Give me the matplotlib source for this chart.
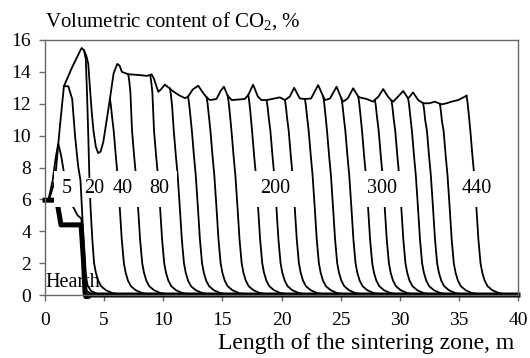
import matplotlib
matplotlib.use("Agg")
import matplotlib.pyplot as plt
from matplotlib.patches import Rectangle

plt.rcParams['font.family'] = ['Liberation Serif', 'DejaVu Serif']
plt.rcParams['mathtext.fontset'] = 'custom'
plt.rcParams['mathtext.rm'] = 'Liberation Serif'
plt.rcParams['mathtext.it'] = 'Liberation Serif:italic'

# upper envelope (longest profile) of CO2 content
env_x = [0.35, 0.85, 1.25, 1.6, 2.3, 2.96, 3.1, 3.3, 3.5, 3.66, 3.8, 3.95, 4.1, 4.3, 4.5, 4.7,
         4.93, 5.2, 5.49,
         5.8, 6.11, 6.3, 6.5, 7.04, 8.0, 8.6, 8.9, 9.0, 9.2, 9.58, 9.8, 10.14, 10.57, 10.7,
         11.3, 11.83, 12.1, 12.5, 12.96, 13.4, 13.67, 13.95, 14.5, 14.85, 15.13, 15.45, 15.8,
         16.9, 17.19, 17.6, 18.0, 18.3, 18.74, 19.86, 20.29, 20.7, 21.07, 21.55, 21.98, 22.5,
         23.1, 23.53, 23.67, 24.1, 24.66, 25.08, 25.2, 25.6, 26.06, 26.49, 26.6, 27.2, 27.75,
         27.9, 28.2, 28.6, 29.0, 29.3, 29.44, 29.86, 30.29, 30.71, 31.13, 31.56, 31.98, 32.5,
         32.97, 33.39, 33.53, 33.96, 34.38, 34.94, 35.65]
env_y = [6.0, 7.2, 10.5, 13.1, 14.3, 15.3, 15.5, 15.35, 15.0, 14.5, 13.0, 11.5, 10.3, 9.3, 8.9, 9.0,
         9.6, 10.9, 12.3,
         13.9, 14.5, 14.4, 14.0, 13.85, 13.8, 13.75, 13.8, 13.85, 13.6, 12.75, 12.9, 13.2, 12.95, 12.85,
         12.55, 12.35, 12.45, 12.9, 13.13, 12.65, 12.4, 12.23, 12.3, 12.8, 13.07, 12.5, 12.23,
         12.3, 12.55, 13.2, 12.45, 12.23, 12.23, 12.4, 12.23, 12.45, 13.0, 12.33, 12.3, 12.33,
         13.17, 12.45, 12.23, 12.33, 13.07, 12.3, 12.13, 12.33, 12.97, 12.45, 12.4, 12.3, 12.13,
         12.25, 12.45, 12.92, 12.45, 12.2, 12.13, 12.45, 12.8, 12.33, 12.71, 12.23, 12.03, 12.03,
         12.13, 12.0, 11.96, 12.03, 12.13, 12.23, 12.5]

# where each profile leaves the envelope (front) and its height there
drop_x = [5.49, 7.04, 8.9, 10.57, 12.1, 13.67, 15.45, 17.19, 18.74, 20.29, 21.98, 23.53,
          25.08, 26.49, 27.9, 29.3, 30.71, 31.98, 33.39, 35.65]
drop_top = [12.3, 13.85, 13.8, 12.95, 12.45, 12.4, 12.5, 12.55, 12.23, 12.23, 12.3, 12.45,
            12.3, 12.45, 12.25, 12.2, 12.33, 12.03, 12.0, 12.5]

# shape of a front (same for every profile): bend at top, steep fall, tail to zero
head_dx = [0.0, 0.08, 0.18]
head_dy = [0.0, -0.4, -1.1]
tail_dx = [0.32, 0.5, 0.65, 0.83, 1.0, 1.18, 1.33, 1.53, 1.78, 2.18, 2.73, 3.43, 4.1]
tail_y = [10.3, 8.7, 7.5, 5.5, 3.5, 2.0, 1.4, 0.9, 0.55, 0.3, 0.12, 0.03, 0.0]

# early profiles near the start of the zone
a_x = [0.3, 0.65, 0.9, 1.12, 1.35, 1.6, 2.0, 2.37, 2.75, 3.07, 3.25, 3.35, 3.5, 3.8, 4.3]
a_y = [6.0, 7.2, 8.6, 9.5, 8.8, 7.7, 6.5, 5.54, 5.0, 4.8, 3.0, 1.0, 0.3, 0.1, 0.0]
b_x = [1.6, 1.97, 2.3, 2.54, 2.8, 3.0, 3.12, 3.25, 3.35, 3.45, 3.6, 3.9, 4.4, 5.0]
b_y = [13.1, 13.1, 12.3, 10.0, 8.1, 7.2, 5.5, 3.5, 2.0, 1.2, 0.6, 0.25, 0.08, 0.0]
c_x = [3.3, 3.45, 3.56, 3.66, 3.76, 3.85, 4.0, 4.15, 4.3, 4.5, 4.75, 5.15, 5.7, 6.4, 7.0]
c_y = [15.35, 14.8, 12.5, 10.0, 7.2, 5.5, 3.5, 2.0, 1.4, 0.9, 0.55, 0.3, 0.12, 0.03, 0.0]

# thick line (hearth layer)
hearth_x = [0, 0.9, 1.05, 1.1, 1.35, 3.05, 3.25, 3.38, 3.45, 3.65, 3.85, 40]
hearth_y = [5.95, 5.95, 5.75, 5.5, 4.4, 4.4, 2.2, 0.2, -0.1, -0.1, 0.0, 0.0]

labels = ['5', '20', '40', '80', '200', '300', '440']
label_x = [1.8, 4.12, 6.6, 9.7, 19.44, 28.46, 36.5]
label_y = 6.7

fig = plt.figure(figsize=(5.3, 3.58), dpi=100)
ax = fig.add_axes([45 / 530, 1 - 295 / 358, 473 / 530, 255 / 358])

lw = 1.3
ax.plot(env_x, env_y, color='black', lw=lw, zorder=2, solid_joinstyle='round')
for x0, top in zip(drop_x, drop_top):
    xs = [x0 + d for d in head_dx] + [x0 + d for d in tail_dx]
    ys = [top + d for d in head_dy] + tail_y
    ax.plot(xs, ys, color='black', lw=lw, zorder=2, solid_joinstyle='round')
ax.plot(a_x, a_y, color='black', lw=lw, zorder=2)
ax.plot(b_x, b_y, color='black', lw=lw, zorder=2)
ax.plot(c_x, c_y, color='black', lw=lw, zorder=2)
ax.plot(hearth_x, hearth_y, color='black', lw=3.6, zorder=2.5,
        solid_capstyle='projecting', clip_on=False)

# white boxes behind the time labels
for lab, lx in zip(labels, label_x):
    if lab == '20':
        ax.text(lx, label_y, lab, fontsize=14.5, ha='center', va='center', zorder=5,
                bbox=dict(fc='white', ec='none', pad=0.3))
        continue
    hw = 0.6 + 0.42 * len(lab)
    ax.add_patch(Rectangle((lx - hw, 5.55), 2 * hw, 2.2, fc='white', ec='none', zorder=3))
    ax.text(lx, label_y, lab, fontsize=14.5, ha='center', va='center', zorder=5)

ax.text(0.05, 0.8, 'Hearth', fontsize=14.5, ha='left', va='center', zorder=1)

ax.set_xlim(0, 40)
ax.set_ylim(0, 16)
ax.set_xticks(range(0, 41, 5))
ax.set_yticks(range(0, 17, 2))
for s in ax.spines.values():
    s.set_color('#666666')
    s.set_linewidth(1.0)
ax.tick_params(direction='out', length=4, width=1, color='#666666', labelsize=14)
ax.tick_params(axis='x', pad=8)
ax.tick_params(axis='y', pad=6)

fig.text(45 / 530, 1 - 27 / 358, 'Volumetric content of CO$_2$, %', fontsize=15,
         ha='left', va='baseline')
fig.text(514 / 530, 1 - 349 / 358, 'Length of the sintering zone, m', fontsize=17,
         ha='right', va='baseline')

fig.savefig('out.png', dpi=100)
